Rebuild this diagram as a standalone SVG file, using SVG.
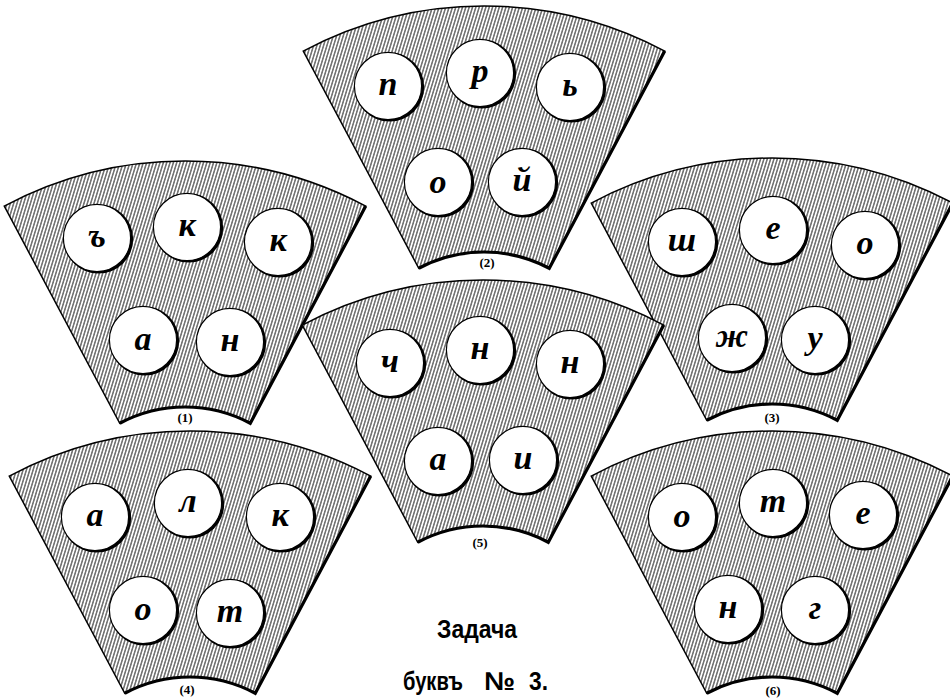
<svg xmlns="http://www.w3.org/2000/svg" xmlns:xlink="http://www.w3.org/1999/xlink" width="950" height="700" viewBox="0 0 950 700">
<style>
.sec{fill:url(#hatch);stroke:#000;stroke-width:1.5;stroke-linejoin:miter}
.edge{fill:none;stroke:#000;stroke-width:3.2}
.ltr{font-family:"Liberation Serif","DejaVu Serif",serif;font-style:italic;font-weight:bold;font-size:34px;text-anchor:middle;fill:#000}
.lbl{font-family:"Liberation Serif","DejaVu Serif",serif;font-weight:bold;font-size:13px;text-anchor:middle;fill:#000}
.ttl{font-family:"Liberation Sans","DejaVu Sans",sans-serif;font-weight:bold;font-size:26px;fill:#000}
</style>
<defs>
<pattern id="hatch" patternUnits="userSpaceOnUse" width="3.2" height="12" patternTransform="rotate(17)">
<rect width="3.2" height="12" fill="#fff"/>
<line x1="1.6" y1="-1" x2="1.6" y2="13" stroke="#2a2a2a" stroke-width="1.05"/>
</pattern>
<path id="shape" d="M -180.75,-339.9 A 385 385 0 0 1 180.75,-339.9 L 65.26,-122.73 A 139 139 0 0 0 -65.26,-122.73 Z"/>
<path id="rim" d="M 180.75,-339.9 L 65.26,-122.73 A 139 139 0 0 0 -65.26,-122.73"/>
<g id="disc">
<circle cx="1.6" cy="1.0" r="34.6" fill="#000"/>
<circle r="33.6" fill="#fff" stroke="#000" stroke-width="1.2"/>
</g>
</defs>
<rect width="950" height="700" fill="#fff"/>

<g id="sector1">
<use xlink:href="#shape" href="#shape" x="185" y="546" class="sec"/>
<use xlink:href="#rim" href="#rim" x="185" y="546" class="edge"/>
<use href="#disc" xlink:href="#disc" x="97" y="238"/><use href="#disc" xlink:href="#disc" x="187" y="227"/><use href="#disc" xlink:href="#disc" x="278" y="242"/><use href="#disc" xlink:href="#disc" x="143" y="340"/><use href="#disc" xlink:href="#disc" x="230" y="342"/>
<text class="ltr" x="97" y="247">ъ</text><text class="ltr" x="187" y="236">к</text><text class="ltr" x="278" y="251">к</text><text class="ltr" x="143" y="350" font-style="normal">а</text><text class="ltr" x="230" y="351">н</text>
<text class="lbl" x="185" y="422">(1)</text>
</g>

<g id="sector2">
<use xlink:href="#shape" href="#shape" x="484" y="391" class="sec"/>
<use xlink:href="#rim" href="#rim" x="484" y="391" class="edge"/>
<use href="#disc" xlink:href="#disc" x="388" y="86"/><use href="#disc" xlink:href="#disc" x="480" y="73"/><use href="#disc" xlink:href="#disc" x="570" y="87"/><use href="#disc" xlink:href="#disc" x="438" y="182"/><use href="#disc" xlink:href="#disc" x="522" y="182"/>
<text class="ltr" x="388" y="95">п</text><text class="ltr" x="480" y="82">р</text><text class="ltr" x="570" y="96">ь</text><text class="ltr" x="438" y="193" font-style="normal">о</text><text class="ltr" x="522" y="191">й</text>
<text class="lbl" x="487" y="267">(2)</text>
</g>

<g id="sector3">
<use xlink:href="#shape" href="#shape" x="772" y="543" class="sec"/>
<use xlink:href="#rim" href="#rim" x="772" y="543" class="edge"/>
<use href="#disc" xlink:href="#disc" x="682" y="242"/><use href="#disc" xlink:href="#disc" x="773" y="230"/><use href="#disc" xlink:href="#disc" x="865" y="245"/><use href="#disc" xlink:href="#disc" x="732" y="338"/><use href="#disc" xlink:href="#disc" x="815" y="340"/>
<text class="ltr" x="682" y="251">ш</text><text class="ltr" x="773" y="239">е</text><text class="ltr" x="865" y="254">о</text><text class="ltr" x="732" y="347">ж</text><text class="ltr" x="815" y="349">у</text>
<text class="lbl" x="772" y="422">(3)</text>
</g>

<g id="sector5">
<use xlink:href="#shape" href="#shape" x="483" y="665" class="sec"/>
<use xlink:href="#rim" href="#rim" x="483" y="665" class="edge"/>
<use href="#disc" xlink:href="#disc" x="390" y="363"/><use href="#disc" xlink:href="#disc" x="480" y="350"/><use href="#disc" xlink:href="#disc" x="570" y="364"/><use href="#disc" xlink:href="#disc" x="438" y="461"/><use href="#disc" xlink:href="#disc" x="523" y="460"/>
<text class="ltr" x="390" y="372">ч</text><text class="ltr" x="480" y="359">н</text><text class="ltr" x="570" y="373">н</text><text class="ltr" x="438" y="470">а</text><text class="ltr" x="523" y="469">и</text>
<text class="lbl" x="480" y="547">(5)</text>
</g>

<g id="sector4">
<use xlink:href="#shape" href="#shape" x="190" y="816" class="sec"/>
<use xlink:href="#rim" href="#rim" x="190" y="816" class="edge"/>
<use href="#disc" xlink:href="#disc" x="95" y="517"/><use href="#disc" xlink:href="#disc" x="188" y="503"/><use href="#disc" xlink:href="#disc" x="280" y="517"/><use href="#disc" xlink:href="#disc" x="143" y="610"/><use href="#disc" xlink:href="#disc" x="230" y="613"/>
<text class="ltr" x="95" y="526">а</text><text class="ltr" x="188" y="512">л</text><text class="ltr" x="280" y="526">к</text><text class="ltr" x="143" y="620">о</text><text class="ltr" x="230" y="622">т</text>
<text class="lbl" x="187" y="694">(4)</text>
</g>

<g id="sector6">
<use xlink:href="#shape" href="#shape" x="772" y="816" class="sec"/>
<use xlink:href="#rim" href="#rim" x="772" y="816" class="edge"/>
<use href="#disc" xlink:href="#disc" x="682" y="517"/><use href="#disc" xlink:href="#disc" x="773" y="503"/><use href="#disc" xlink:href="#disc" x="863" y="515"/><use href="#disc" xlink:href="#disc" x="728" y="609"/><use href="#disc" xlink:href="#disc" x="815" y="610"/>
<text class="ltr" x="682" y="527">о</text><text class="ltr" x="773" y="512">т</text><text class="ltr" x="863" y="524">е</text><text class="ltr" x="728" y="618">н</text><text class="ltr" x="815" y="619">г</text>
<text class="lbl" x="773" y="695">(6)</text>
</g>

<g id="title">
<text class="ttl" x="437" y="638" textLength="80" lengthAdjust="spacingAndGlyphs">Задача</text>
<text class="ttl" x="403" y="690" textLength="60" lengthAdjust="spacingAndGlyphs">буквъ</text>
<text class="ttl" x="484" y="690" textLength="31" lengthAdjust="spacingAndGlyphs">№</text>
<text class="ttl" x="529" y="690" textLength="19" lengthAdjust="spacingAndGlyphs">3.</text>
</g>
</svg>
